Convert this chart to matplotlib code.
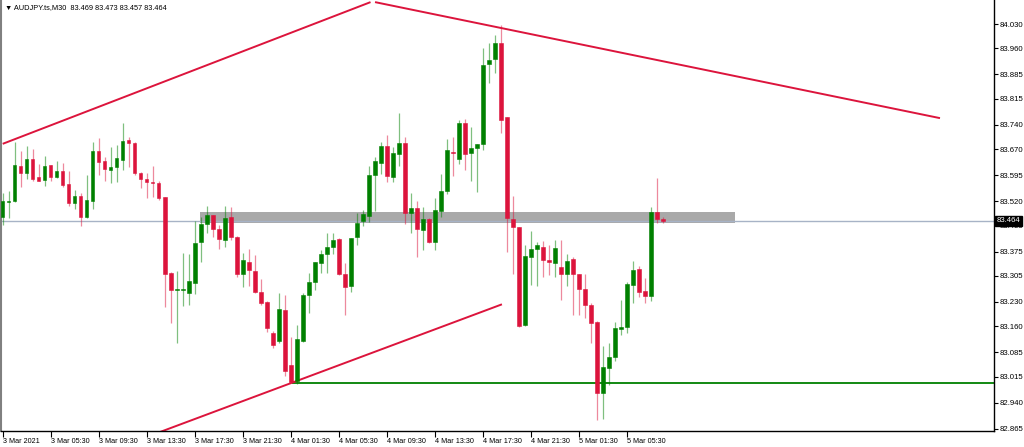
import numpy as np
import matplotlib
matplotlib.use("Agg")
import matplotlib.pyplot as plt
from matplotlib.patches import Rectangle

plt.rcParams['font.family'] = ['Liberation Sans', 'DejaVu Sans']

# AUDJPY M30 bars
opens = [83.475, 83.518, 83.520, 83.621, 83.602, 83.640, 83.590, 83.581, 83.623, 83.590,
         83.606, 83.569, 83.514, 83.535, 83.474, 83.521, 83.665, 83.636, 83.610, 83.618,
         83.638, 83.696, 83.688, 83.602, 83.584, 83.576, 83.573, 83.531, 83.312, 83.264,
         83.263, 83.255, 83.285, 83.403, 83.453, 83.479, 83.439, 83.408, 83.475, 83.418,
         83.309, 83.345, 83.319, 83.259, 83.231, 83.141, 83.118, 83.207, 83.048, 83.003,
         83.117, 83.249, 83.288, 83.343, 83.368, 83.387, 83.410, 83.310, 83.276, 83.416,
         83.464, 83.477, 83.595, 83.631, 83.679, 83.590, 83.656, 83.688, 83.487, 83.499,
         83.437, 83.469, 83.403, 83.493, 83.549, 83.662, 83.640, 83.744, 83.660, 83.674,
         83.685, 83.914, 83.928, 83.976, 83.761, 83.468, 83.446, 83.163, 83.358, 83.381,
         83.389, 83.351, 83.343, 83.331, 83.310, 83.353, 83.310, 83.266, 83.221, 83.173,
         82.967, 83.041, 83.072, 83.153, 83.159, 83.279, 83.326, 83.262, 83.247, 83.488,
         83.469]
highs = [83.543, 83.549, 83.691, 83.664, 83.679, 83.670, 83.627, 83.651, 83.624, 83.636,
         83.631, 83.607, 83.552, 83.544, 83.595, 83.689, 83.701, 83.648, 83.677, 83.682,
         83.746, 83.704, 83.689, 83.603, 83.600, 83.621, 83.578, 83.532, 83.317, 83.319,
         83.370, 83.367, 83.463, 83.475, 83.506, 83.480, 83.451, 83.506, 83.502, 83.420,
         83.370, 83.381, 83.365, 83.295, 83.233, 83.147, 83.255, 83.250, 83.130, 83.163,
         83.256, 83.312, 83.346, 83.379, 83.429, 83.427, 83.413, 83.343, 83.414, 83.485,
         83.495, 83.621, 83.648, 83.691, 83.710, 83.677, 83.773, 83.704, 83.544, 83.520,
         83.502, 83.472, 83.528, 83.598, 83.698, 83.704, 83.754, 83.757, 83.734, 83.685,
         83.960, 83.974, 83.998, 84.027, 83.762, 83.535, 83.447, 83.394, 83.434, 83.403,
         83.406, 83.394, 83.408, 83.408, 83.367, 83.358, 83.311, 83.310, 83.226, 83.174,
         83.103, 83.111, 83.173, 83.235, 83.288, 83.349, 83.334, 83.298, 83.502, 83.586,
         83.473]
lows = [83.451, 83.472, 83.518, 83.560, 83.583, 83.579, 83.577, 83.564, 83.579, 83.587,
        83.560, 83.506, 83.497, 83.449, 83.471, 83.497, 83.595, 83.579, 83.573, 83.576,
        83.610, 83.619, 83.595, 83.557, 83.528, 83.533, 83.523, 83.214, 83.170, 83.113,
        83.218, 83.221, 83.252, 83.346, 83.429, 83.418, 83.381, 83.387, 83.408, 83.303,
        83.274, 83.276, 83.256, 83.221, 83.144, 83.096, 83.113, 83.018, 82.997, 82.994,
        83.115, 83.197, 83.264, 83.312, 83.314, 83.368, 83.307, 83.192, 83.259, 83.394,
        83.449, 83.461, 83.493, 83.598, 83.576, 83.576, 83.621, 83.454, 83.429, 83.358,
        83.379, 83.400, 83.379, 83.474, 83.541, 83.592, 83.627, 83.610, 83.579, 83.547,
        83.667, 83.859, 83.888, 83.717, 83.374, 83.310, 83.159, 83.161, 83.279, 83.277,
        83.303, 83.307, 83.303, 83.235, 83.276, 83.192, 83.192, 83.183, 83.113, 82.890,
        82.892, 82.991, 83.061, 83.135, 83.141, 83.228, 83.245, 83.228, 83.233, 83.456,
        83.457]
closes = [83.521, 83.521, 83.624, 83.602, 83.640, 83.584, 83.579, 83.621, 83.590, 83.606,
          83.567, 83.514, 83.535, 83.474, 83.523, 83.665, 83.634, 83.612, 83.619, 83.643,
          83.694, 83.687, 83.602, 83.584, 83.576, 83.573, 83.528, 83.310, 83.264, 83.268,
          83.267, 83.291, 83.399, 83.454, 83.479, 83.439, 83.410, 83.472, 83.418, 83.309,
          83.351, 83.322, 83.259, 83.228, 83.154, 83.106, 83.209, 83.032, 83.000, 83.124,
          83.250, 83.286, 83.345, 83.368, 83.389, 83.408, 83.310, 83.274, 83.413, 83.456,
          83.482, 83.595, 83.636, 83.679, 83.592, 83.660, 83.688, 83.487, 83.499, 83.439,
          83.468, 83.403, 83.495, 83.550, 83.667, 83.658, 83.746, 83.656, 83.674, 83.684,
          83.912, 83.926, 83.974, 83.754, 83.471, 83.446, 83.161, 83.362, 83.381, 83.394,
          83.351, 83.346, 83.384, 83.310, 83.349, 83.310, 83.266, 83.221, 83.170, 82.967,
          83.043, 83.072, 83.154, 83.159, 83.281, 83.322, 83.259, 83.247, 83.488, 83.469,
          83.464]

xtick_bars = [0, 8, 16, 24, 32, 40, 48, 56, 64, 72, 80, 88, 96, 104]
xtick_labels = ["3 Mar 2021", "3 Mar 05:30", "3 Mar 09:30", "3 Mar 13:30", "3 Mar 17:30",
                "3 Mar 21:30", "4 Mar 01:30", "4 Mar 05:30", "4 Mar 09:30", "4 Mar 13:30",
                "4 Mar 17:30", "4 Mar 21:30", "5 Mar 01:30", "5 Mar 05:30"]
yticks = [84.030, 83.960, 83.885, 83.815, 83.740, 83.670, 83.595, 83.520, 83.450,
          83.375, 83.305, 83.230, 83.160, 83.085, 83.015, 82.940, 82.865]

last_price = 83.464
zone_top, zone_bottom, zone_start, zone_end = 83.490, 83.458, 32.9, 122.0
support_level, support_start = 82.997, 48.2
# trendlines: (bar0, price0, bar1, price1)
trendlines = [(0.0, 83.685, 61.3, 84.093),
              (62.05, 84.093, 156.2, 83.759),
              (26.0, 82.854, 83.2, 83.223)]

BULL = '#008000'
BEAR = '#dc143c'
FS = 5.6

fig = plt.figure(figsize=(10.24, 4.47), dpi=100)
ax = fig.add_axes([1 / 1024, 16 / 447, 993 / 1024, 431 / 447])
ax.set_xlim(-0.28, 165.2)
ax.set_ylim(82.8583, 84.0991)

# resistance zone and price line
ax.add_patch(Rectangle((zone_start, zone_bottom), zone_end - zone_start, zone_top - zone_bottom,
                       facecolor='#a9a9a9', edgecolor='none', zorder=1))
ax.axhline(last_price, color='#a7b3c6', lw=1.0, zorder=2)
ax.hlines(support_level, support_start, 166, color='#008000', lw=1.3, zorder=2)

for b0, p0, b1, p1 in trendlines:
    ax.plot([b0, b1], [p0, p1], color=BEAR, lw=1.4, zorder=2, solid_capstyle='butt')

# candles
for i, (o, h, l, c) in enumerate(zip(opens, highs, lows, closes)):
    col = BULL if c >= o else BEAR
    ax.vlines(i, l, h, color=col, lw=0.9, alpha=0.5, zorder=3)
    bot = min(o, c)
    hgt = max(abs(c - o), 0.0012)
    ax.add_patch(Rectangle((i - 0.3, bot), 0.6, hgt, facecolor=col, edgecolor=col,
                           lw=0.4, zorder=4))

ax.set_xticks(xtick_bars)
ax.set_xticklabels(xtick_labels, ha='left', fontsize=FS - 0.4)
ax.yaxis.tick_right()
ax.set_yticks(yticks)
ax.set_yticklabels([f"{v:.3f}" for v in yticks], fontsize=FS)
ax.tick_params(axis='x', length=4, width=0.8, pad=1)
ax.tick_params(axis='y', length=3, width=0.8, pad=1)

ax.spines['top'].set_visible(False)
ax.spines['left'].set_color('#808080')
ax.spines['left'].set_linewidth(1.5)
ax.spines['right'].set_linewidth(1.0)
ax.spines['bottom'].set_linewidth(1.0)

# last price tag on the axis
ax.annotate(f"{last_price:.3f}", xy=(1.0, last_price), xycoords=('axes fraction', 'data'),
            xytext=(2, 0), textcoords='offset points', ha='left', va='center',
            fontsize=FS, color='white',
            bbox=dict(boxstyle='square,pad=0.2', facecolor='black', edgecolor='black'),
            zorder=10, annotation_clip=False)

fig.text(5 / 1024, 1 - 8 / 447, "\u25bc AUDJPY.ts,M30  83.469 83.473 83.457 83.464",
         fontsize=FS - 0.3, va='center', ha='left')

fig.savefig("out.png", dpi=100)
